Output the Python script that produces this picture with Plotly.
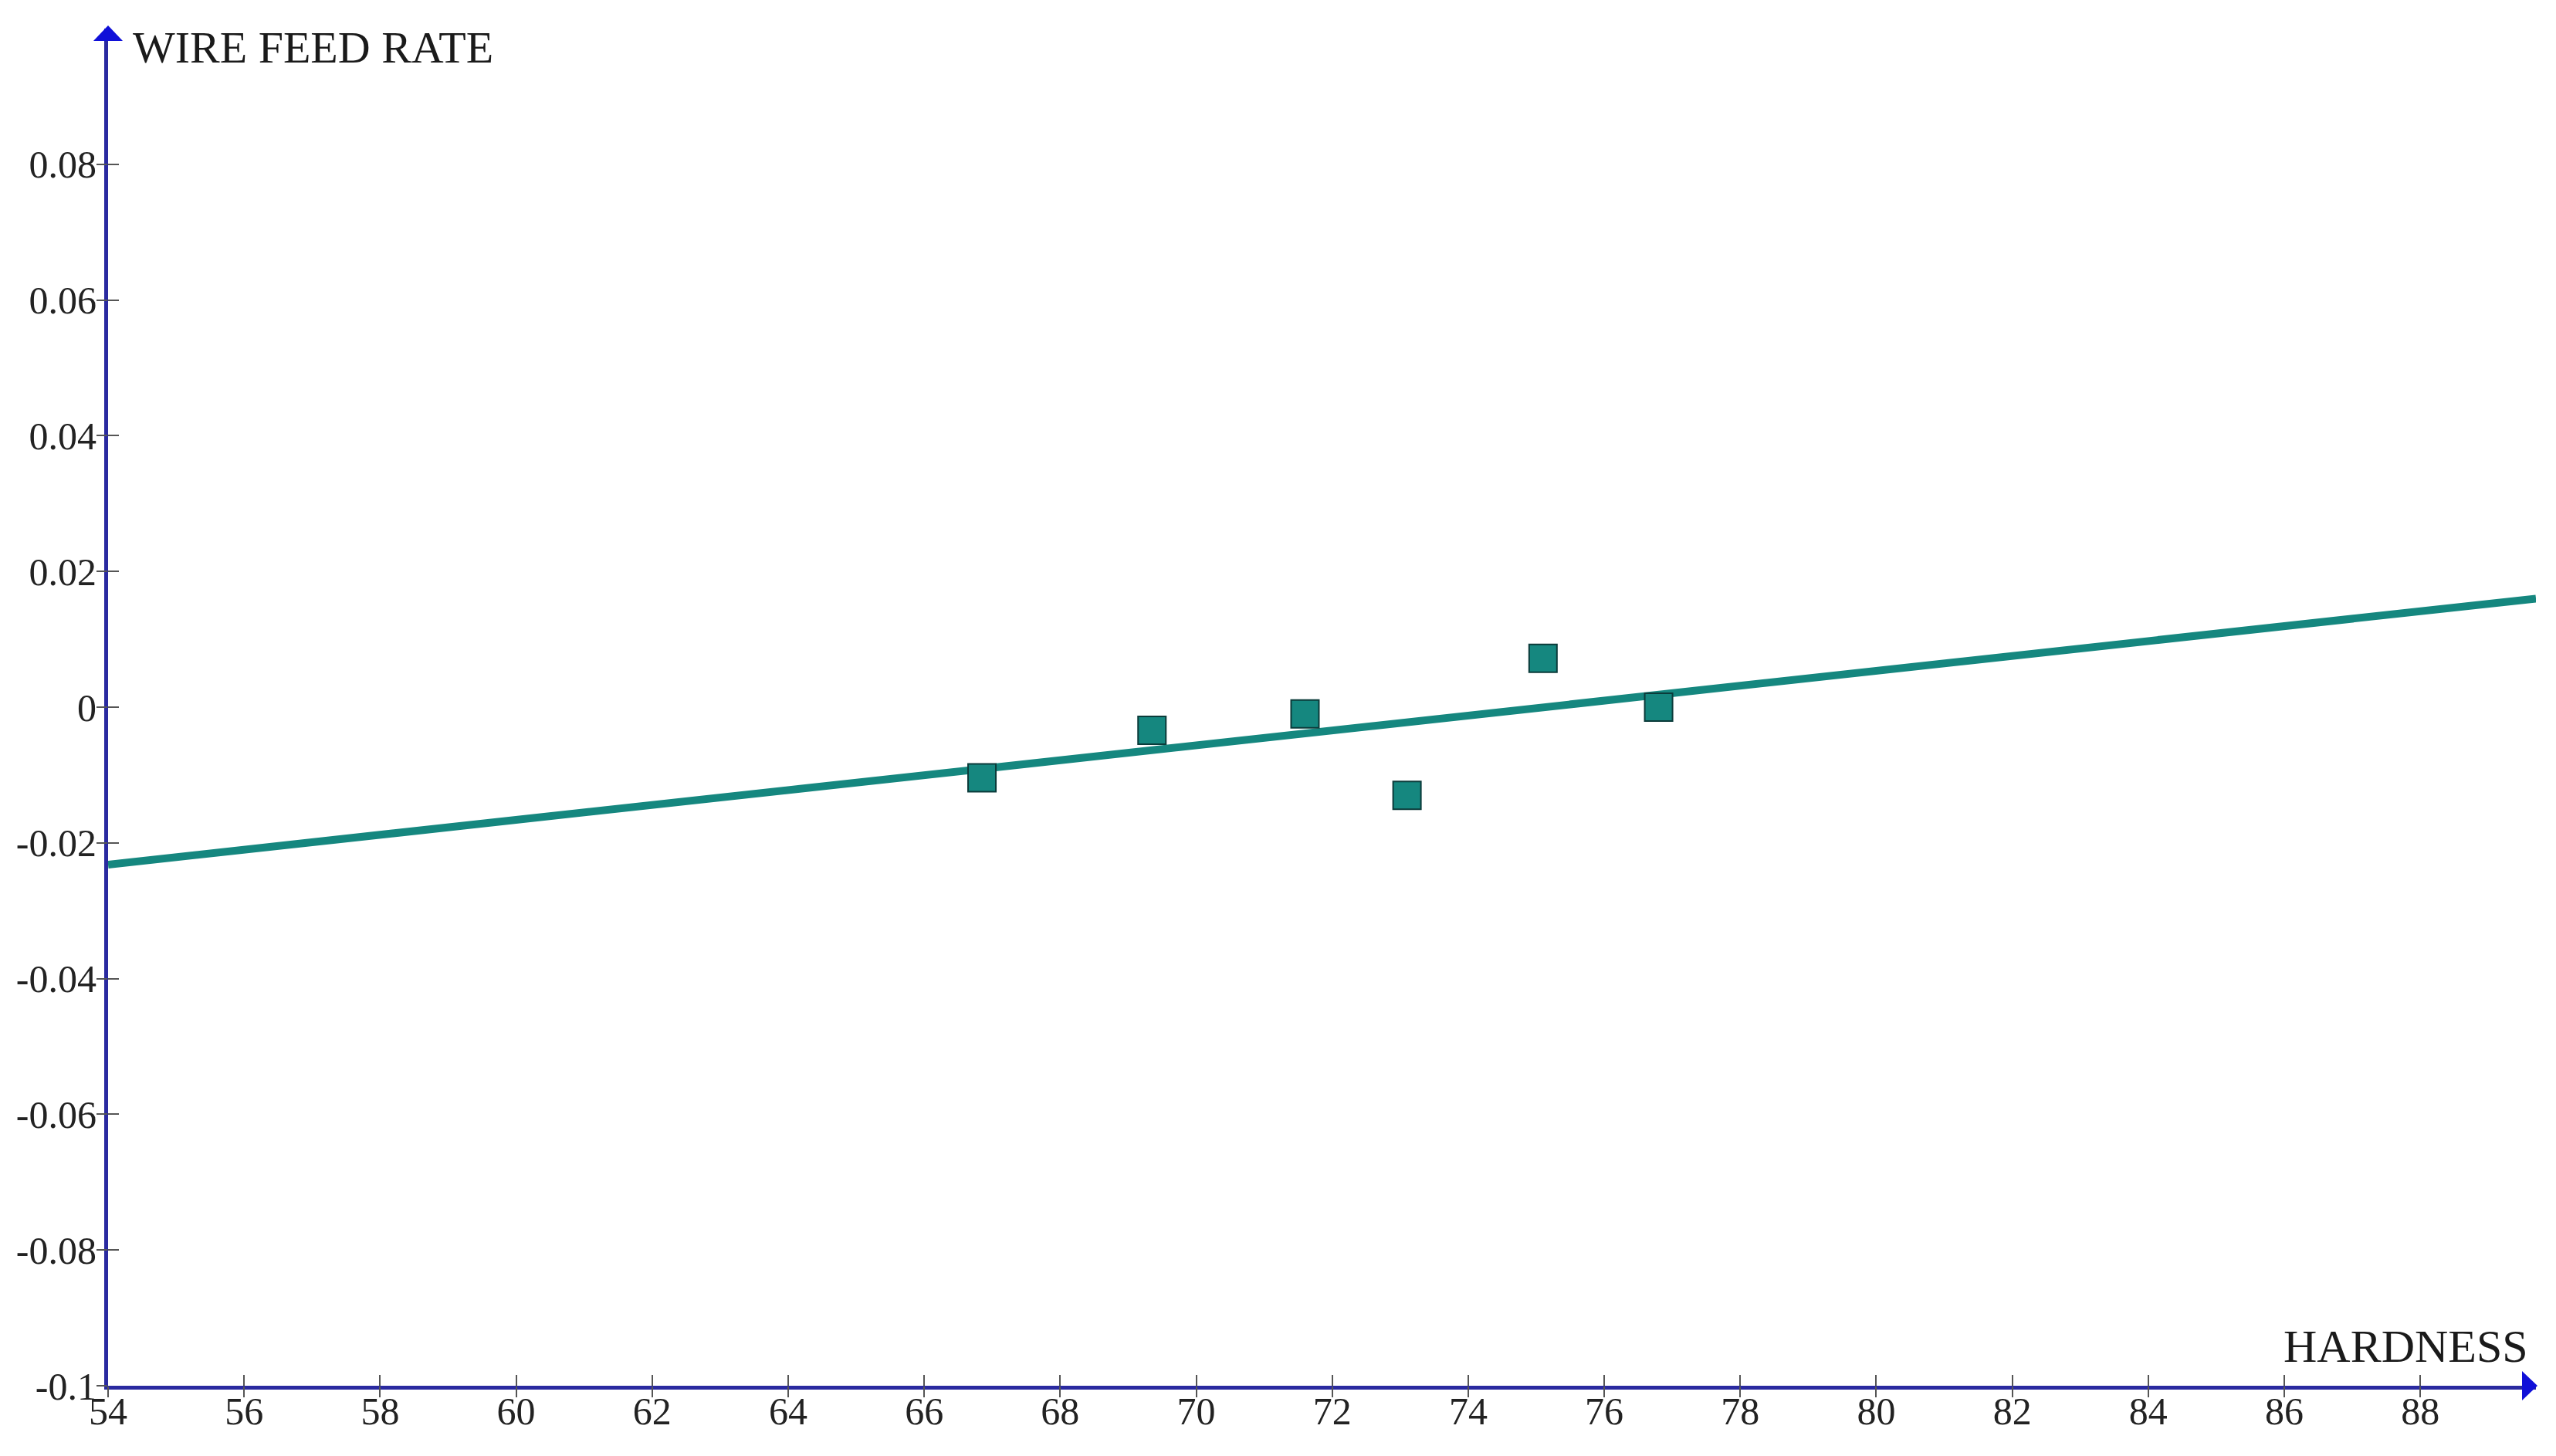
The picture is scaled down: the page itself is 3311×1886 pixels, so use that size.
import plotly.graph_objects as go

# ---- data ----
hardness = [66.85, 69.35, 71.6, 73.1, 75.1, 76.8]
wire_feed_rate = [-0.0104, -0.0034, -0.0010, -0.0130, 0.0072, 0.0000]

fit_x = [54.0, 89.7]
fit_y = [-0.0232, 0.0160]

x_ticks = [54, 56, 58, 60, 62, 64, 66, 68, 70, 72, 74, 76, 78, 80, 82, 84, 86, 88]
y_ticks = [-0.1, -0.08, -0.06, -0.04, -0.02, 0, 0.02, 0.04, 0.06, 0.08]
y_tick_labels = ["-0.1", "-0.08", "-0.06", "-0.04", "-0.02", "0", "0.02", "0.04", "0.06", "0.08"]

X_RANGE = [54, 89.7]
Y_RANGE = [-0.1, 0.1]

TEAL = "#15877f"
AXIS_BLUE = "#2a2aa0"
ARROW_BLUE = "#1010d8"
TICK_GRAY = "#555555"
FONT = "Liberation Serif"

fig = go.Figure()

fig.add_trace(go.Scatter(
    x=fit_x, y=fit_y, mode="lines",
    line=dict(color=TEAL, width=10),
    hoverinfo="skip", showlegend=False, cliponaxis=False,
))
fig.add_trace(go.Scatter(
    x=hardness, y=wire_feed_rate, mode="markers",
    marker=dict(symbol="square", size=36, color=TEAL,
                line=dict(color="#0b3b3a", width=2)),
    showlegend=False,
))

label_font = dict(family=FONT, size=50, color="#222222")
tick_only = dict(showticklabels=False, showgrid=False, zeroline=False,
                 showline=False, automargin=False,
                 tickcolor=TICK_GRAY, tickwidth=2, ticklen=14)

fig.update_layout(
    # page body has an 8px margin, so the figure is 8px smaller than the window
    width=3303, height=1878,
    margin=dict(l=132, r=26, t=29, b=91),
    paper_bgcolor="white", plot_bgcolor="white",
    xaxis=dict(range=X_RANGE, tickvals=x_ticks, ticks="",
               showline=True, linecolor=AXIS_BLUE, linewidth=5,
               showgrid=False, zeroline=False, automargin=False,
               tickfont=label_font, ticklabelstandoff=-15),
    yaxis=dict(range=Y_RANGE, tickvals=y_ticks, ticktext=y_tick_labels,
               ticks="", showline=True, linecolor=AXIS_BLUE, linewidth=5,
               showgrid=False, zeroline=False, automargin=False,
               tickfont=label_font),
    # overlay axes providing the crossing tick marks
    xaxis2=dict(range=X_RANGE, tickvals=x_ticks, ticks="inside",
                overlaying="x", side="bottom", anchor="y", **tick_only),
    yaxis2=dict(range=Y_RANGE, tickvals=y_ticks, ticks="inside",
                overlaying="y", side="left", anchor="x", **tick_only),
    xaxis3=dict(range=X_RANGE, tickvals=x_ticks, ticks="outside",
                overlaying="x", side="bottom", anchor="y", **tick_only),
    yaxis3=dict(range=Y_RANGE, tickvals=y_ticks, ticks="outside",
                overlaying="y", side="left", anchor="x", **tick_only),
    shapes=[
        # arrow head at top of y axis
        dict(type="path", xref="paper", yref="paper", xsizemode="pixel", ysizemode="pixel",
             xanchor=0, yanchor=1,
             path="M -19 -16 L 19 -16 L 0 4 Z",
             fillcolor=ARROW_BLUE, line=dict(width=0), layer="above"),
        # arrow head at right of x axis
        dict(type="path", xref="paper", yref="paper", xsizemode="pixel", ysizemode="pixel",
             xanchor=1, yanchor=0,
             path="M -18 19 L -18 -19 L 2 0 Z",
             fillcolor=ARROW_BLUE, line=dict(width=0), layer="above"),
    ],
    annotations=[
        dict(text="WIRE FEED RATE", xref="paper", yref="paper", x=0, y=1,
             xanchor="left", yanchor="middle", xshift=30, yshift=-24,
             showarrow=False, font=dict(family=FONT, size=58, color="#1a1a1a")),
        dict(text="HARDNESS", xref="paper", yref="paper", x=1, y=0,
             xanchor="right", yanchor="middle", xshift=-8, yshift=51,
             showarrow=False, font=dict(family=FONT, size=60, color="#1a1a1a")),
    ],
)

# invisible traces to activate the overlay tick axes
for xa, ya in (("x2", "y2"), ("x3", "y3")):
    fig.add_trace(go.Scatter(x=[X_RANGE[0]], y=[Y_RANGE[0]], xaxis=xa, yaxis=ya,
                             mode="markers", marker=dict(opacity=0),
                             showlegend=False, hoverinfo="skip"))

fig.write_html("out.html")
